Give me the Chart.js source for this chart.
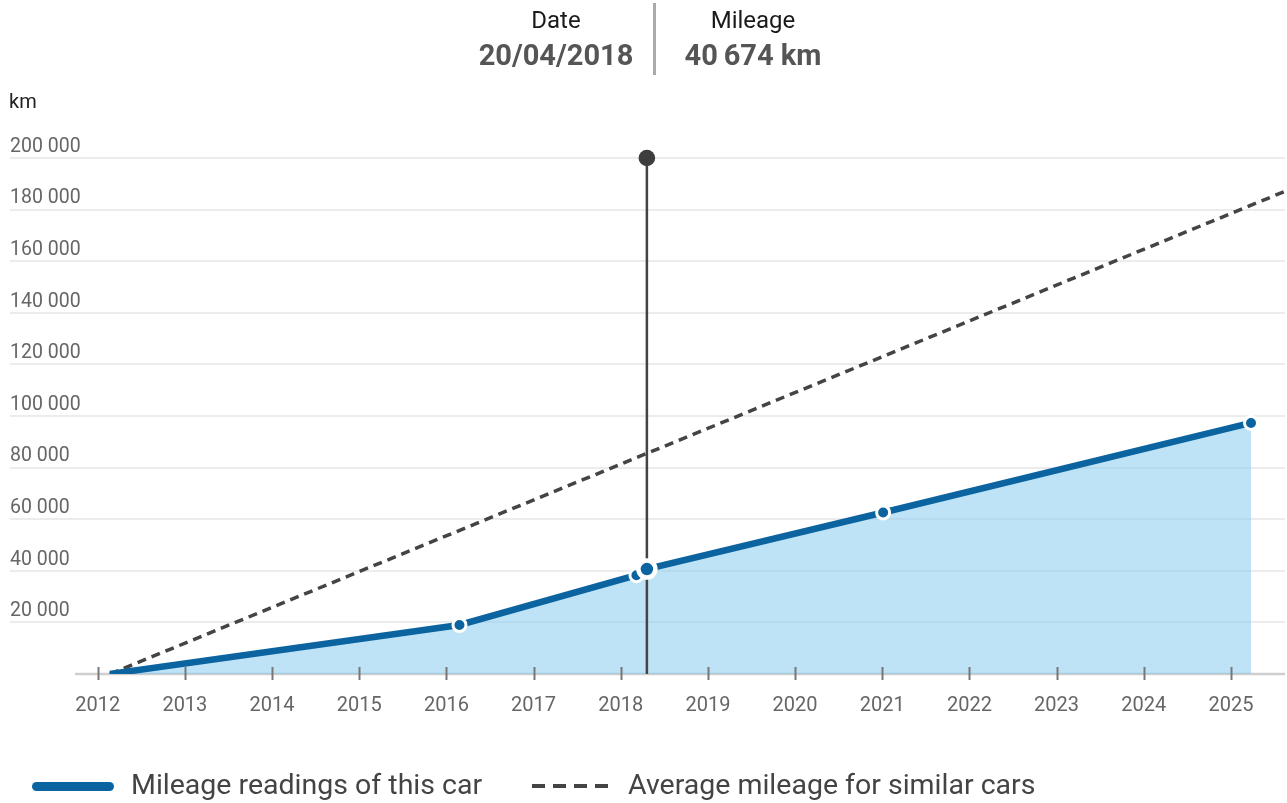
<!DOCTYPE html>
<html lang="en">
<head>
  <meta charset="UTF-8" />
  <meta name="viewport" content="width=device-width, initial-scale=1.0"/>
  <title>Mileage history</title>
  <script src="https://cdn.jsdelivr.net/npm/chart.js"></script>
  <style>
    body {
      font-family: Roboto, Arial, sans-serif;
      background: #fff;
      margin: 0;
      padding: 0;
    }

    #wrap {
      position: relative;
      width: 1287px;
      height: 803px;
      overflow: hidden;
    }

    #wrap canvas {
      position: absolute;
      left: 0;
      top: 0;
    }

    .col {
      position: absolute;
      width: 200px;
      text-align: center;
      line-height: 1;
      white-space: nowrap;
    }

    .col .lbl {
      font-size: 24px;
      color: #1a1a1a;
    }

    .col .val {
      font-size: 29px;
      font-weight: bold;
      color: #555;
      margin-top: 9px;
    }

    #divider {
      position: absolute;
      left: 653px;
      top: 3px;
      width: 3px;
      height: 72px;
      background: #ababab;
    }

    #unit {
      position: absolute;
      left: 9px;
      top: 91px;
      font-size: 20px;
      line-height: 1;
      color: #222;
    }

    .legend {
      position: absolute;
      top: 771px;
      font-size: 28.5px;
      line-height: 1;
      color: #444;
      white-space: nowrap;
    }

    .swatch {
      position: absolute;
      top: 782px;
      height: 9px;
    }
  </style>
</head>
<body>
  <div id="wrap">
    <canvas id="mileageChart" width="1287" height="803"></canvas>

    <div class="col" style="left:456px; top:8px;">
      <div class="lbl">Date</div>
      <div class="val" id="dateVal"></div>
    </div>
    <div id="divider"></div>
    <div class="col" style="left:653px; top:8px;">
      <div class="lbl">Mileage</div>
      <div class="val" id="kmVal"></div>
    </div>

    <div id="unit">km</div>

    <div class="swatch" style="left:32px; width:82px; background:#0b64a0; border-radius:5px;"></div>
    <div class="legend" style="left:131px;">Mileage readings of this car</div>
    <div class="swatch" style="left:532px; width:82px; top:784px; height:4px;
         background:repeating-linear-gradient(90deg,#444 0 13px,transparent 13px 21px);"></div>
    <div class="legend" style="left:628px;">Average mileage for similar cars</div>
  </div>

  <script>
    // mileage readings of this car (decimal years / km)
    const readingYears = [2012.14, 2016.15, 2018.18, 2018.30, 2021.01, 2025.23];
    const readingKm = [0, 19000, 38300, 40674, 62600, 97300];

    // average mileage for similar cars
    const averageYears = [2012.14, 2025.62];
    const averageKm = [0, 187100];

    const tickYears = [2012, 2013, 2014, 2015, 2016, 2017, 2018, 2019, 2020, 2021, 2022, 2023, 2024, 2025];
    const kmTicks = [0, 20000, 40000, 60000, 80000, 100000, 120000, 140000, 160000, 180000, 200000];

    const activeIndex = 3;
    const activeDate = "20/04/2018";

    const xMin = 2010.994;
    const xMax = 2025.62;
    const baselineStart = 2011.74;

    const BLUE = "#0b64a0";

    const fmt = (v, sep) => String(Math.round(v)).replace(/\B(?=(\d{3})+(?!\d))/g, sep);

    document.getElementById("dateVal").textContent = activeDate;
    document.getElementById("kmVal").textContent = fmt(readingKm[activeIndex], "\u2009") + " km";

    const overlay = {
      id: "overlay",
      beforeDraw(chart) {
        const { ctx, chartArea, scales: { x, y } } = chart;
        ctx.save();
        ctx.strokeStyle = "#cfcfcf";
        ctx.lineWidth = 2.5;
        ctx.beginPath();
        ctx.moveTo(x.getPixelForValue(baselineStart), y.getPixelForValue(0));
        ctx.lineTo(chartArea.right, y.getPixelForValue(0));
        ctx.stroke();
        ctx.restore();
      },
      beforeDatasetsDraw(chart) {
        // crosshair for the selected reading
        const { ctx, scales: { x, y } } = chart;
        const px = x.getPixelForValue(readingYears[activeIndex]);
        const top = y.getPixelForValue(kmTicks[kmTicks.length - 1]);
        ctx.save();
        ctx.strokeStyle = "#444";
        ctx.lineWidth = 2.5;
        ctx.beginPath();
        ctx.moveTo(px, top);
        ctx.lineTo(px, y.getPixelForValue(0));
        ctx.stroke();
        ctx.fillStyle = "#3d3d3d";
        ctx.beginPath();
        ctx.arc(px, top, 8.3, 0, Math.PI * 2);
        ctx.fill();
        ctx.restore();
      },
      afterDatasetsDraw(chart) {
        const { ctx, scales: { x, y } } = chart;
        const y0 = y.getPixelForValue(0);
        ctx.save();
        ctx.strokeStyle = "#777";
        ctx.lineWidth = 2;
        tickYears.forEach(v => {
          const px = Math.round(x.getPixelForValue(v)) + 0.5;
          ctx.beginPath();
          ctx.moveTo(px, y0 - 7);
          ctx.lineTo(px, y0 + 6);
          ctx.stroke();
        });
        ctx.restore();
      }
    };

    const ctx = document.getElementById("mileageChart").getContext("2d");
    new Chart(ctx, {
      type: "line",
      data: {
        datasets: [
          {
            label: "Mileage readings of this car",
            data: readingYears.map((yr, i) => ({ x: yr, y: readingKm[i] })),
            borderColor: BLUE,
            borderWidth: 6.5,
            backgroundColor: "rgba(126,200,238,0.5)",
            fill: "origin",
            tension: 0,
            pointBackgroundColor: BLUE,
            pointBorderColor: "#fff",
            pointRadius: c => c.dataIndex === 0 ? 0 : (c.dataIndex === activeIndex ? 8.5 : 6.5),
            pointBorderWidth: c => c.dataIndex === activeIndex ? 4.5 : 3
          },
          {
            label: "Average mileage for similar cars",
            data: averageYears.map((yr, i) => ({ x: yr, y: averageKm[i] })),
            borderColor: "#444",
            borderWidth: 3.5,
            borderDash: [9, 6],
            fill: false,
            pointRadius: 0
          }
        ]
      },
      options: {
        responsive: false,
        animation: false,
        layout: { autoPadding: false, padding: { top: 158, left: 10, right: 2, bottom: 79 } },
        plugins: {
          legend: { display: false },
          tooltip: { enabled: false },
          filler: { drawTime: "beforeDatasetsDraw" }
        },
        scales: {
          x: {
            type: "linear",
            min: xMin,
            max: xMax,
            afterBuildTicks: s => { s.ticks = tickYears.map(v => ({ value: v })); },
            afterFit: s => { s.height = 50; s.paddingLeft = 0; s.paddingRight = 0; },
            grid: { display: false, drawTicks: false },
            border: { display: false },
            ticks: {
              padding: 20,
              color: "#666",
              font: { family: "Roboto", size: 20 },
              callback: v => String(v)
            }
          },
          y: {
            min: 0,
            max: 200000,
            afterBuildTicks: s => { s.ticks = kmTicks.map(v => ({ value: v })); },
            afterFit: s => { s.width = 0; s.paddingTop = 0; s.paddingBottom = 0; },
            grid: {
              drawTicks: false,
              lineWidth: 2,
              color: c => c.tick && c.tick.value === 0 ? "rgba(0,0,0,0)" : "#ececec"
            },
            border: { display: false },
            ticks: {
              mirror: true,
              padding: 0,
              labelOffset: -11,
              color: "#666",
              font: { family: "Roboto", size: 19.5 },
              callback: v => v === 0 ? "" : fmt(v, " ")
            }
          }
        }
      },
      plugins: [overlay]
    });
  </script>
</body>
</html>
